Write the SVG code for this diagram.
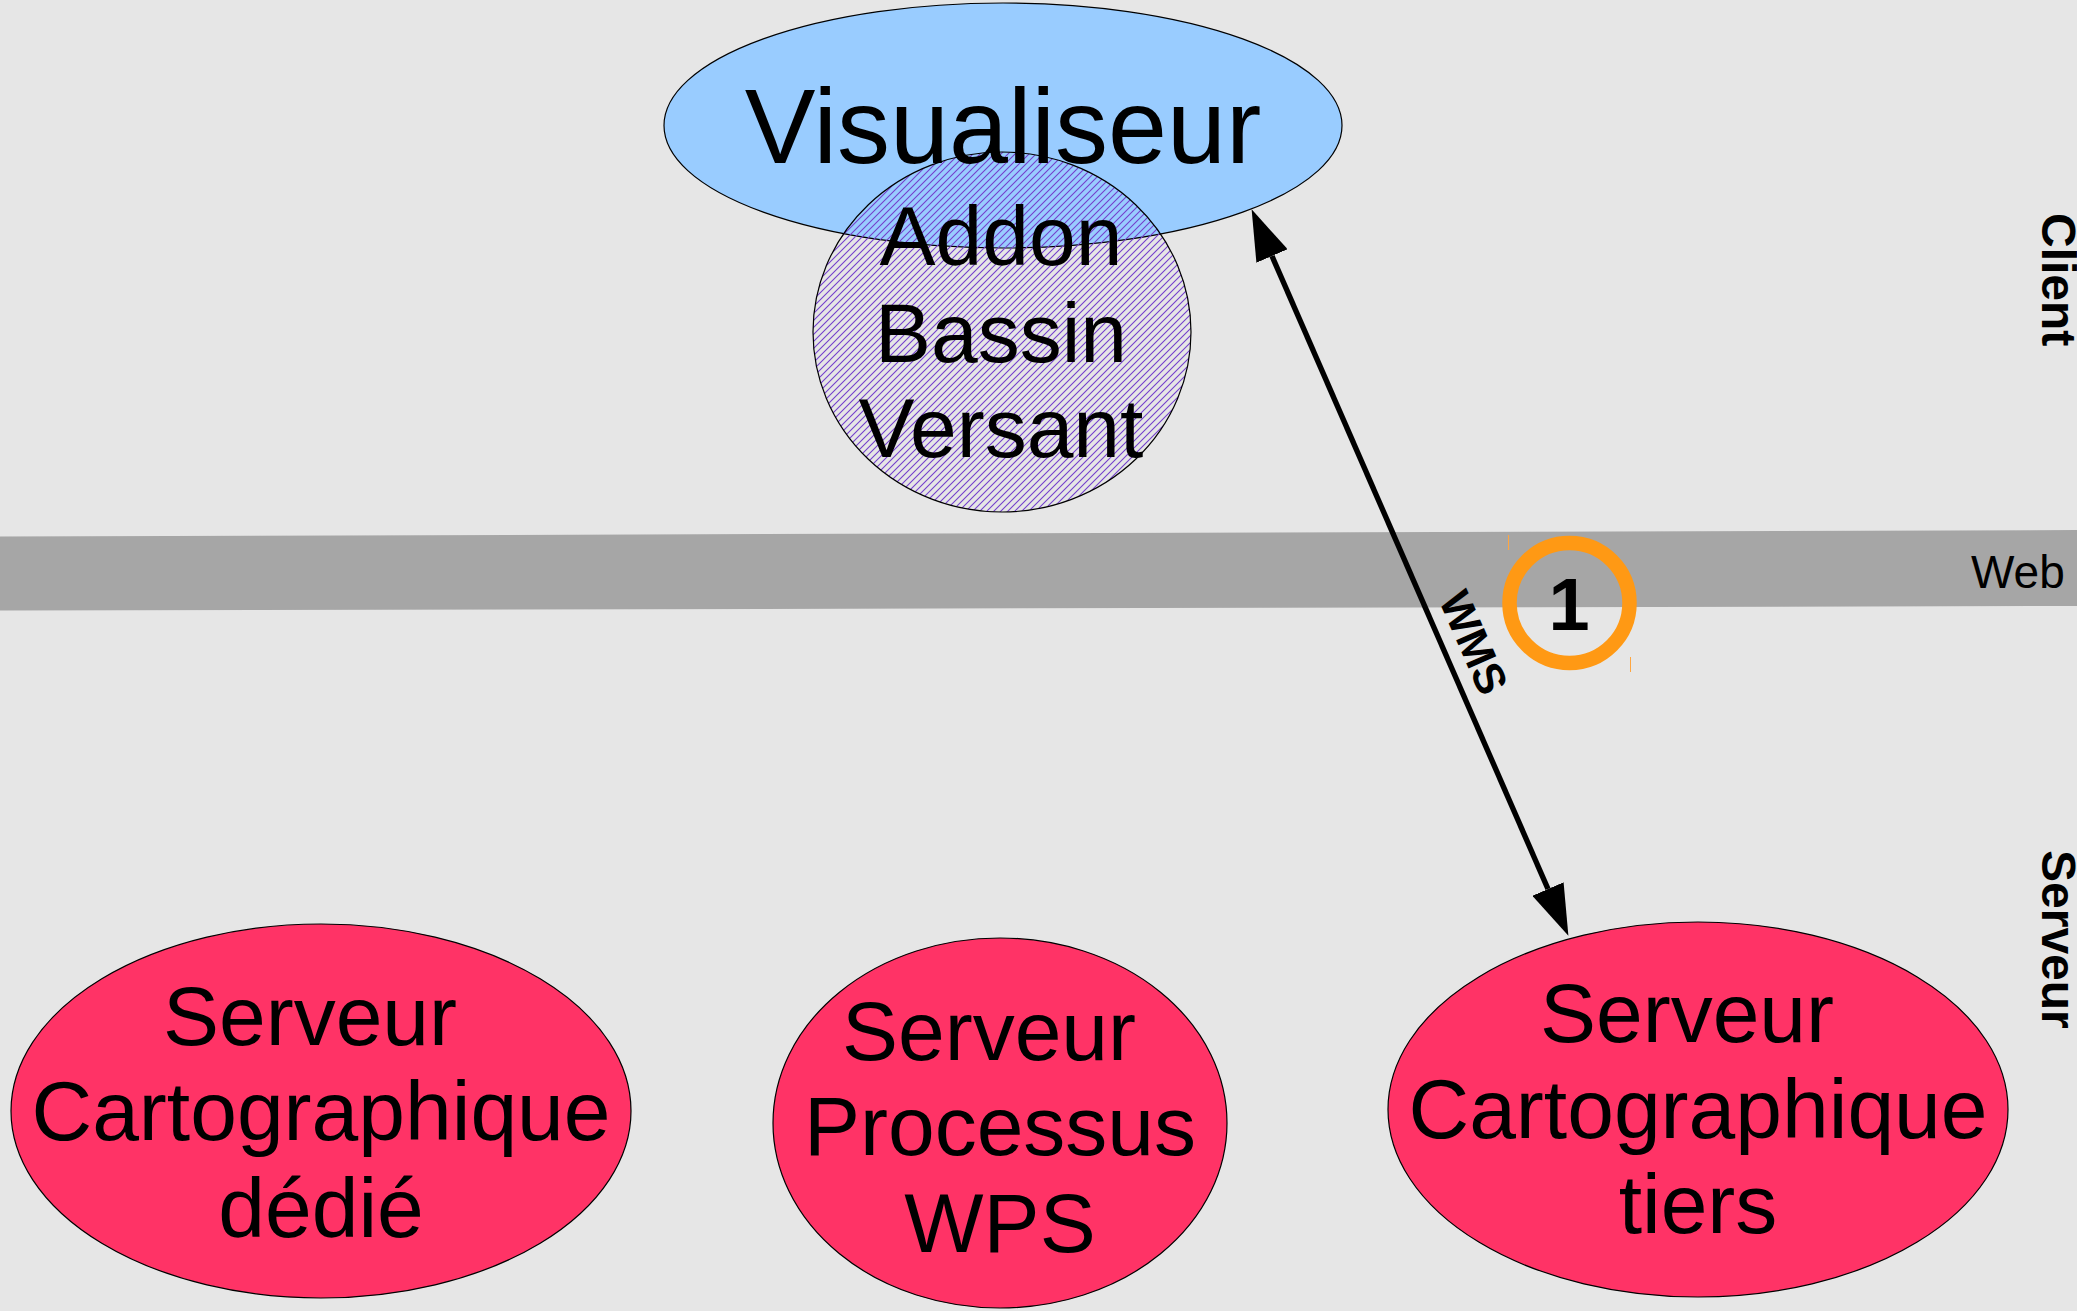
<svg xmlns="http://www.w3.org/2000/svg" width="2077" height="1311" viewBox="0 0 2077 1311">
  <defs>
    <style>
      .lbl { font-family: "Liberation Sans", Arial, sans-serif; fill: #000; }
      .big { font-size: 84px; text-anchor: middle; }
      .side { font-size: 48px; font-weight: bold; }
      .edge { stroke: #000; stroke-width: 1.2; }
      .srv { fill: #ff3366; }
    </style>
    <pattern id="hatch" patternUnits="userSpaceOnUse" width="7" height="7">
      <path d="M0,7 L7,0 M-1,1 L1,-1 M6,8 L8,6" stroke="#7340cc" stroke-width="1.1" fill="none"/>
    </pattern>
    <marker id="head" markerUnits="userSpaceOnUse" markerWidth="52" markerHeight="34" refX="0" refY="17" orient="auto-start-reverse">
      <path d="M0,0 L51,17 L0,34 z" fill="#000"/>
    </marker>
  </defs>

  <!-- background -->
  <rect x="0" y="0" width="2077" height="1311" fill="#e6e6e6"/>

  <!-- web band between client and server zones -->
  <g id="web-band">
    <polygon points="0,536.5 2077,530 2077,606 0,610.6" fill="#a6a6a6"/>
    <text class="lbl" x="1971" y="588" font-size="46">Web</text>
  </g>

  <!-- zone labels -->
  <g id="zone-client">
    <text class="lbl side" transform="translate(2042,213) rotate(90)">Client</text>
  </g>
  <g id="zone-serveur">
    <text class="lbl side" transform="translate(2042,850) rotate(90)">Serveur</text>
  </g>

  <!-- client side: the viewer, with its watershed add-on plugged into it -->
  <g id="visualiseur">
    <ellipse cx="1003" cy="125.5" rx="339" ry="122.5" fill="#99ccff" class="edge"/>
    <g id="addon-bassin-versant">
      <ellipse cx="1002" cy="332" rx="189" ry="180" fill="url(#hatch)" class="edge"/>
      <text class="lbl big" x="1001" y="265">Addon</text>
      <text class="lbl big" x="1001" y="362">Bassin</text>
      <text class="lbl big" x="1001" y="457">Versant</text>
    </g>
    <text class="lbl" x="1003" y="163" font-size="106" text-anchor="middle">Visualiseur</text>
  </g>

  <!-- server side -->
  <g id="serveur-carto-dedie">
    <ellipse cx="321" cy="1111" rx="310" ry="187" class="srv edge"/>
    <text class="lbl big" x="310" y="1045">Serveur</text>
    <text class="lbl big" x="321" y="1140">Cartographique</text>
    <text class="lbl big" x="321" y="1237">dédié</text>
  </g>

  <g id="serveur-processus-wps">
    <ellipse cx="1000" cy="1123" rx="227" ry="185" class="srv edge"/>
    <text class="lbl big" x="989" y="1060">Serveur</text>
    <text class="lbl big" x="1000" y="1155">Processus</text>
    <text class="lbl big" x="1000" y="1252">WPS</text>
  </g>

  <g id="serveur-carto-tiers">
    <ellipse cx="1698" cy="1109.5" rx="310" ry="187.5" class="srv edge"/>
    <text class="lbl big" x="1687" y="1042">Serveur</text>
    <text class="lbl big" x="1698" y="1138">Cartographique</text>
    <text class="lbl big" x="1698" y="1233">tiers</text>
  </g>

  <!-- connectors -->
  <g id="connectors">
    <line x1="1272" y1="256" x2="1548" y2="889" stroke="#000" stroke-width="5.4" marker-start="url(#head)" marker-end="url(#head)"/>
    <text class="lbl" font-size="44" font-weight="bold" text-anchor="middle" transform="translate(1474,642.5) rotate(66.45)" y="15.5">WMS</text>
  </g>

  <!-- step marker -->
  <g id="step-1">
    <circle cx="1569.5" cy="603" r="60" fill="none" stroke="#ff9914" stroke-width="14.5"/>
    <text class="lbl" x="1569" y="630" font-size="74" font-weight="bold" text-anchor="middle">1</text>
    <line x1="1508.5" y1="535" x2="1508.5" y2="550" stroke="#ffa640" stroke-width="1"/>
    <line x1="1630.5" y1="657" x2="1630.5" y2="672" stroke="#ffa640" stroke-width="1"/>
  </g>
</svg>
